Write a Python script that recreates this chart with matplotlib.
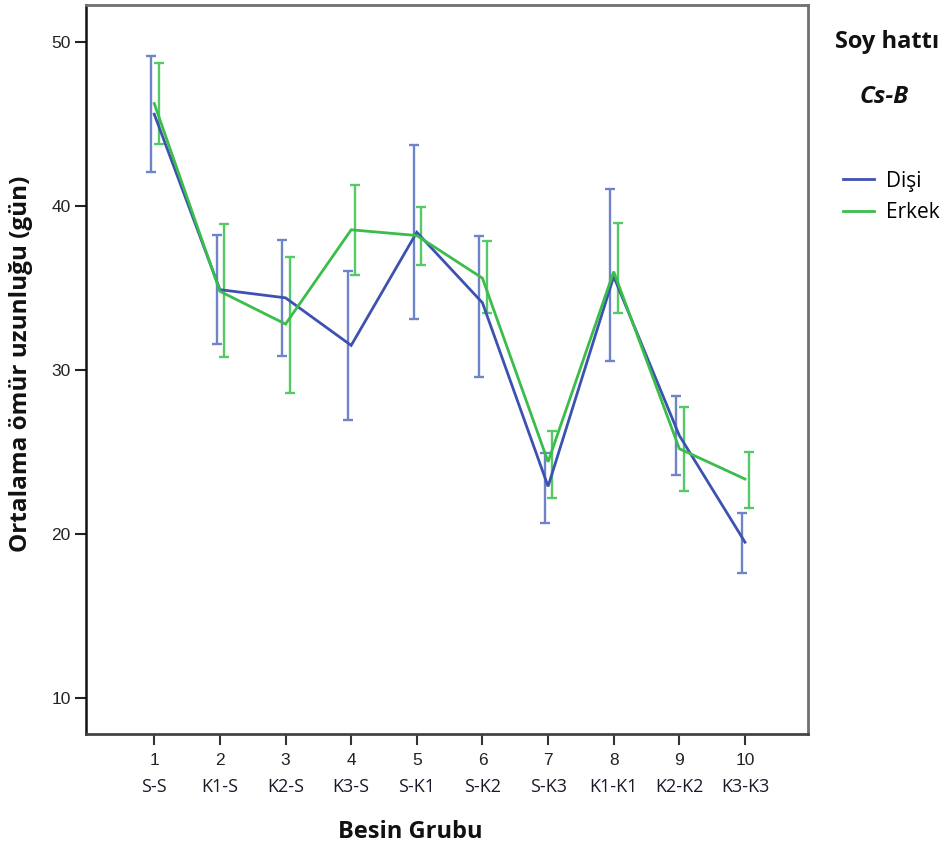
import matplotlib
matplotlib.use("Agg")
import matplotlib.pyplot as plt
import numpy as np
from matplotlib.lines import Line2D

# ---- data ----
groups = [1, 2, 3, 4, 5, 6, 7, 8, 9, 10]
group_names = ["S-S", "K1-S", "K2-S", "K3-S", "S-K1", "S-K2", "S-K3", "K1-K1", "K2-K2", "K3-K3"]

disi_mean = [45.6, 34.9, 34.4, 31.5, 38.4, 34.1, 22.9, 35.7, 26.0, 19.5]
disi_low  = [42.1, 31.6, 30.85, 26.95, 33.1, 29.6, 20.65, 30.55, 23.6, 17.6]
disi_high = [49.15, 38.25, 37.95, 36.05, 43.7, 38.2, 24.95, 41.05, 28.4, 21.3]

erkek_mean = [46.25, 34.8, 32.8, 38.55, 38.2, 35.6, 24.4, 36.0, 25.2, 23.35]
erkek_low  = [43.8, 30.8, 28.6, 35.8, 36.4, 33.5, 22.2, 33.5, 22.6, 21.6]
erkek_high = [48.75, 38.9, 36.9, 41.3, 39.95, 37.85, 26.3, 38.95, 27.75, 25.0]

series_labels = ["Dişi", "Erkek"]

blue = "#3d52b0"
blue_bar = "#6f83c8"
green = "#3bbd4b"
green_bar = "#55c965"

fig = plt.figure(figsize=(9.52, 8.52), dpi=100)
ax = fig.add_axes([86/952, 1 - 734/852, (808 - 86)/952, (734 - 5)/852])

x = np.array(groups, dtype=float)

def draw(mean, lo, hi, col, barcol, off):
    mean = np.array(mean); lo = np.array(lo); hi = np.array(hi)
    ax.plot(x, mean, color=col, lw=2.0, solid_joinstyle="miter", zorder=3)
    ax.errorbar(x + off, mean, yerr=[mean - lo, hi - mean], fmt="none",
                ecolor=barcol, elinewidth=1.7, capsize=3.5, capthick=1.7, zorder=2)

draw(disi_mean, disi_low, disi_high, blue, blue_bar, -0.05)
draw(erkek_mean, erkek_low, erkek_high, green, green_bar, 0.065)

ax.set_xlim(-0.04, 10.96)
ax.set_ylim(7.8, 52.26)

ax.set_yticks([10, 20, 30, 40, 50])
ax.set_yticklabels(["10", "20", "30", "40", "50"], fontsize=12.5, family="Liberation Sans", color="#222222")
ax.set_xticks(groups)
ax.set_xticklabels([str(g) for g in groups], fontsize=12.5, family="Liberation Sans", color="#222222")
ax.tick_params(axis="y", direction="out", length=8, width=1.5, color="#222222", pad=3)
ax.tick_params(axis="x", direction="out", length=8, width=1.5, color="#333333", pad=6)

for g, name in zip(groups, group_names):
    ax.text(g, -0.073, name, transform=ax.get_xaxis_transform(), ha="center", va="center",
            fontsize=13, family="Open Sans", color="#1a1a2a")

ax.spines["left"].set_color("#111111"); ax.spines["left"].set_linewidth(1.8)
ax.spines["bottom"].set_color("#444444"); ax.spines["bottom"].set_linewidth(2.0)
for s in ["top", "right"]:
    ax.spines[s].set_color("#707070"); ax.spines[s].set_linewidth(2.0)

ax.set_ylabel("Ortalama ömür uzunluğu (gün)", fontsize=17.5, fontweight="bold",
              family="Open Sans", color="#111111", labelpad=0)
ax.yaxis.set_label_coords(-0.074, 0.5075)
ax.set_xlabel("Besin Grubu", fontsize=17, fontweight="bold", family="Open Sans", color="#111111")
ax.xaxis.set_label_coords(0.449, -0.118)

fig.text(887/952, 1 - 42/852, "Soy hattı", fontsize=17, fontweight="bold", family="Open Sans",
         ha="center", va="center", color="#111111")
fig.text(884/952, 1 - 97/852, "Cs-B", fontsize=17.5, fontweight="bold", style="italic",
         family="Open Sans", ha="center", va="center", color="#111111")

handles = [Line2D([0], [0], color=blue, lw=2.0), Line2D([0], [0], color=green, lw=2.0)]
leg = fig.legend(handles, series_labels, loc="upper left", bbox_to_anchor=(824/952, 1 - 152/852),
                 frameon=False, handlelength=1.5, handletextpad=0.6, labelspacing=0.5,
                 prop={"family": "Open Sans", "size": 15})

fig.savefig("out.png", dpi=100)
